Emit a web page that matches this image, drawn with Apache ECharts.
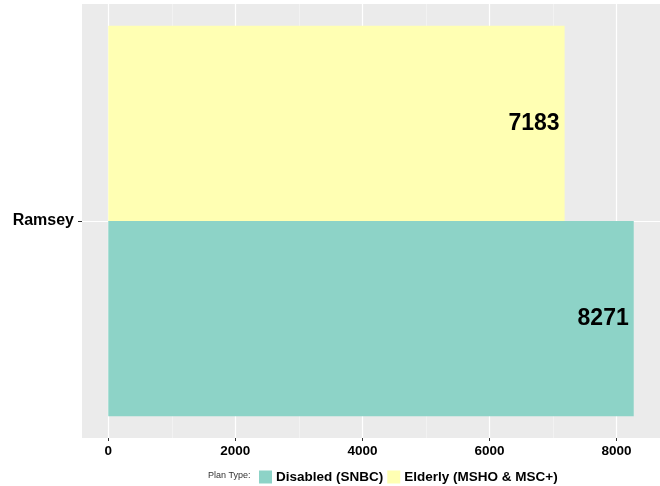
<!DOCTYPE html>
<html>
<head>
<meta charset="utf-8">
<script src="https://cdn.jsdelivr.net/npm/echarts@6/dist/echarts.min.js"></script>
<style>html,body{margin:0;padding:0;background:#fff;}#c{width:660px;height:486px;}</style>
</head>
<body>
<div id="c"></div>
<script>
const categories = ['Ramsey'];
const seriesNames = ['Disabled (SNBC)', 'Elderly (MSHO & MSC+)'];
const disabledValues = [8271];
const elderlyValues = [7183];
const xTickLabels = [0, 2000, 4000, 6000, 8000];
const xMinorLines = [1000, 3000, 5000, 7000];
const legendTitle = 'Plan Type:';

const colors = ['#8DD3C7', '#FFFFB3'];
const dataMax = Math.max(...disabledValues, ...elderlyValues);
const pad = dataMax * 0.05;

const chart = echarts.init(document.getElementById('c'), null, {renderer: 'canvas'});
const fontFam = '"Liberation Sans", Arial, sans-serif';

const gridLines = [];
xTickLabels.forEach(v => gridLines.push({xAxis: v, lineStyle: {color: '#ffffff', width: 1.2, type: 'solid'}}));
xMinorLines.forEach(v => gridLines.push({xAxis: v, lineStyle: {color: '#f7f7f7', width: 0.6, type: 'solid'}}));
categories.forEach(c => gridLines.push({yAxis: c, lineStyle: {color: '#ffffff', width: 1.2, type: 'solid'}}));

const barLabel = {
  show: true, position: 'insideRight', distance: 5,
  fontSize: 23, fontWeight: 'bold', color: '#000', fontFamily: fontFam
};

chart.setOption({
  animation: false,
  textStyle: {fontFamily: fontFam},
  grid: {left: 82, right: 0, top: 4, bottom: 48, show: true, backgroundColor: '#EBEBEB', borderWidth: 0},
  legend: {
    data: seriesNames,
    left: 254, top: 465,
    icon: 'rect', itemWidth: 13, itemHeight: 13, itemGap: 4,
    textStyle: {fontSize: 13.5, fontWeight: 'bold', color: '#000', fontFamily: fontFam, padding: [0, 0, 0, -1]}
  },
  graphic: [{
    type: 'text', left: 208, top: 471,
    style: {text: legendTitle, fontSize: 9, fill: '#333', fontFamily: fontFam}
  }],
  xAxis: {
    type: 'value', min: -pad, max: dataMax + pad,
    axisLine: {show: false},
    splitLine: {show: false},
    axisTick: {show: true, customValues: xTickLabels, length: 3, lineStyle: {color: '#333'}},
    axisLabel: {customValues: xTickLabels, formatter: v => String(v), fontSize: 13.5, fontWeight: 'bold', color: '#000', margin: 6, fontFamily: fontFam}
  },
  yAxis: [
    {
      type: 'category', data: categories,
      axisLine: {show: false},
      axisTick: {show: false},
      axisLabel: {fontSize: 16, fontWeight: 'bold', color: '#000', margin: 8, fontFamily: fontFam},
      splitLine: {show: false}
    },
    {
      type: 'value', position: 'left', min: 0, max: categories.length * 2,
      axisLine: {show: false},
      axisTick: {show: true, customValues: categories.map((c, i) => i * 2 + 1), length: 4, lineStyle: {color: '#333', width: 1}},
      axisLabel: {show: false},
      splitLine: {show: false}
    }
  ],
  series: [
    {
      name: 'grid', type: 'line', data: [], z: 1, silent: true,
      markLine: {silent: true, symbol: 'none', z: 1, label: {show: false}, data: gridLines}
    },
    {
      name: seriesNames[1], type: 'bar', data: elderlyValues, z: 2,
      itemStyle: {color: colors[1]}, barGap: '0%', barCategoryGap: '10%', label: barLabel
    },
    {
      name: seriesNames[0], type: 'bar', data: disabledValues, z: 2,
      itemStyle: {color: colors[0]}, barGap: '0%', barCategoryGap: '10%', label: barLabel
    }
  ]
});
</script>
</body>
</html>
